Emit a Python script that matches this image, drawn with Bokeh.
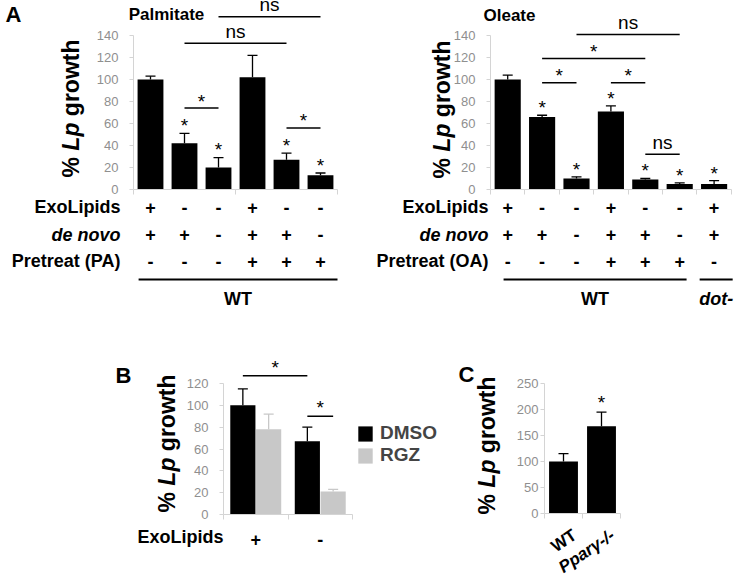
import math
from bokeh.plotting import figure
from bokeh.layouts import column, row
from bokeh.models import (Range1d, FixedTicker, ColumnDataSource, Whisker, TeeHead,
                          Legend, LegendItem)
from bokeh.core.properties import value
from bokeh.embed import file_html
from bokeh.resources import INLINE

FONT = "Liberation Sans"
AXIS_COL = "#d4d4d4"
TICK_COL = "#8f8f8f"
RGZ_COL = "#c8c8c8"

# ---------------- Panel A : Palmitate ----------------
pal_mean = [100, 42, 20, 102, 27, 13]
pal_err = [3, 9, 9, 20, 6, 2]
pal_star = [0, 1, 1, 0, 1, 1]
pal_exo = ["+", "-", "-", "+", "-", "-"]
pal_denovo = ["+", "+", "-", "+", "+", "-"]
pal_pretreat = ["-", "-", "-", "+", "+", "+"]
pal_brackets = [(3, 6, 157, "ns"), (2, 5, 133, "ns"), (2, 3, 74, "*"), (5, 6, 56, "*")]

# ---------------- Panel A : Oleate ----------------
ole_mean = [100, 66, 10, 71, 9, 5, 5]
ole_err = [4, 1.5, 1.5, 5, 1, 1, 3]
ole_star = [0, 1, 1, 1, 1, 1, 1]
ole_exo = ["+", "-", "-", "+", "-", "-", "+"]
ole_denovo = ["+", "+", "-", "+", "+", "-", "+"]
ole_pretreat = ["-", "-", "-", "+", "+", "+", "-"]
ole_brackets = [(3, 6, 141, "ns"), (2, 5, 119, "*"), (2, 3, 97, "*"), (4, 5, 97, "*"), (5, 6, 32, "ns")]

# ---------------- Panel B ----------------
b_exo = ["+", "-"]
b_dmso = [100, 67]
b_dmso_err = [15, 13]
b_rgz = [78, 21]
b_rgz_err = [14, 2]

# ---------------- Panel C ----------------
c_groups = ["WT", "Pparγ-/-"]
c_styles = ["bold", "bold italic"]
c_mean = [100, 168]
c_err = [15, 27]
c_star = [0, 1]

VAL_PX = {}


def make_panel(W, H, ax_px, unit_px, zero_py, val_px):
    p = figure(width=W, height=H,
               x_range=Range1d(0.5 - ax_px / unit_px, 0.5 + (W - ax_px) / unit_px),
               y_range=Range1d(-(H - zero_py) / val_px, zero_py / val_px),
               output_backend="svg", toolbar_location=None, outline_line_color=None)
    p.min_border_left = p.min_border_right = 0
    p.min_border_top = p.min_border_bottom = 0
    p.grid.visible = False
    X = lambda px: 0.5 + (px - ax_px) / unit_px
    Y = lambda py: (zero_py - py) / val_px
    VAL_PX[id(p)] = val_px
    return p, X, Y


def style_axes(p, ymax, ystep, ncat, xminor, standoff=11, size="13px"):
    ya = p.yaxis[0]
    ya.fixed_location = 0.5
    ya.bounds = (0, ymax)
    ya.ticker = FixedTicker(ticks=list(range(0, ymax + 1, ystep)), minor_ticks=[])
    ya.axis_line_color = AXIS_COL
    ya.major_tick_line_color = AXIS_COL
    ya.major_tick_out = 4
    ya.major_tick_in = 0
    ya.minor_tick_line_color = None
    ya.major_label_text_color = TICK_COL
    ya.major_label_text_font = FONT
    ya.major_label_text_font_size = size
    ya.major_label_standoff = standoff
    xa = p.xaxis[0]
    xa.fixed_location = 0
    xa.bounds = (0.5, ncat + 0.5)
    xa.ticker = FixedTicker(ticks=[], minor_ticks=xminor)
    xa.axis_line_color = AXIS_COL
    xa.minor_tick_line_color = AXIS_COL
    xa.minor_tick_out = 5
    xa.minor_tick_in = 0
    xa.major_tick_line_color = None
    xa.major_label_text_font_size = "0px"


def txt(p, x, y, t, size, style="bold", align="center", color="black", angle=0.0):
    if not isinstance(x, list):
        x, y, t = [x], [y], [t]
    p.text(x=x, y=y, text=t, text_font=value(FONT), text_font_size=value(size),
           text_font_style=value(style), text_align=value(align),
           text_baseline=value("middle"), text_color=value(color), angle=angle)


def ylabel(p, X, Y, mid_px, bottom_py, size=23):
    pieces = [("%", "bold", 0.889), (None, None, 0.278), ("Lp", "bold italic", 1.222),
              (None, None, 0.278), ("growth", "bold", 3.333)]
    py = bottom_py
    for t, st, em in pieces:
        if t:
            txt(p, X(mid_px), Y(py), t, f"{size}px", style=st, align="left", angle=math.pi / 2)
        py -= em * size


def bars_with_err(p, xs, means, errs, width, color, cap=10):
    p.vbar(x=xs, top=means, width=width, fill_color=color, line_color=None)
    src = ColumnDataSource(dict(x=xs, lo=means, hi=[m + e for m, e in zip(means, errs)]))
    p.add_layout(Whisker(source=src, base="x", lower="lo", upper="hi", line_color=color,
                         line_width=1.3, lower_head=None, level="overlay",
                         upper_head=TeeHead(size=cap, line_color=color, line_width=1.3)))


def stars(p, xs, means, errs, flags, lift_px, size="19px"):
    lift = lift_px / VAL_PX[id(p)]
    sx = [x for x, f in zip(xs, flags) if f]
    sy = [m + e + lift for m, e, f in zip(means, errs, flags) if f]
    txt(p, sx, sy, ["*"] * len(sx), size, style="normal")


def brackets(p, items, star_px=7, ns_px=12, size="19px"):
    for x0, x1, lvl, lab in items:
        p.segment(x0=[x0], y0=[lvl], x1=[x1], y1=[lvl], line_color="black", line_width=1.5)
        lift = (star_px if lab == "*" else ns_px) / VAL_PX[id(p)]
        txt(p, (x0 + x1) / 2, lvl + lift, lab, size, style="normal")


ROWS_PY = [206.5, 234, 260.5]
LINE_PY = 279
GROUP_PY = 298.5

# ================= Palmitate =================
p1, X1, Y1 = make_panel(370, 310, 133, 34, 189, 1.1)
style_axes(p1, 140, 20, 6, [0.5, 3.5, 6.5])
xs1 = [i + 1 for i in range(len(pal_mean))]
bars_with_err(p1, xs1, pal_mean, pal_err, 0.76, "black")
stars(p1, xs1, pal_mean, pal_err, pal_star, 7.7)
brackets(p1, pal_brackets)
for name, st, vals, py in zip(["ExoLipids", "de novo", "Pretreat (PA)"], ["bold", "bold italic", "bold"],
                              [pal_exo, pal_denovo, pal_pretreat], ROWS_PY):
    txt(p1, X1(120), Y1(py), name, "18px", style=st, align="right")
    txt(p1, xs1, [Y1(py)] * len(xs1), vals, "18px")
p1.segment(x0=[0.65], y0=[Y1(LINE_PY)], x1=[6.5], y1=[Y1(LINE_PY)], line_color="black", line_width=2)
txt(p1, (0.65 + 6.5) / 2, Y1(GROUP_PY), "WT", "18px")
txt(p1, X1(166), Y1(14), "Palmitate", "17px")
txt(p1, X1(5), Y1(13.5), "A", "22px", align="left")
ylabel(p1, X1, Y1, 70, 177)

# ================= Oleate =================
p2, X2, Y2 = make_panel(366, 310, 120, 34.4, 189, 1.1)
style_axes(p2, 140, 20, 7, [i + 0.5 for i in range(8)])
xs2 = [i + 1 for i in range(len(ole_mean))]
bars_with_err(p2, xs2, ole_mean, ole_err, 0.76, "black")
stars(p2, xs2, ole_mean, ole_err, ole_star, 7.7)
brackets(p2, ole_brackets)
for name, st, vals, py in zip(["ExoLipids", "de novo", "Pretreat (OA)"], ["bold", "bold italic", "bold"],
                              [ole_exo, ole_denovo, ole_pretreat], ROWS_PY):
    txt(p2, X2(118), Y2(py), name, "18px", style=st, align="right")
    txt(p2, xs2, [Y2(py)] * len(xs2), vals, "18px")
for a, b, lab, st in [(0.88, 6.2, "WT", "bold"), (6.58, 7.54, "dot-", "bold italic")]:
    p2.segment(x0=[a], y0=[Y2(LINE_PY)], x1=[b], y1=[Y2(LINE_PY)], line_color="black", line_width=2)
    txt(p2, (a + b) / 2, Y2(GROUP_PY), lab, "18px", style=st)
txt(p2, X2(139), Y2(14.5), "Oleate", "17px")
ylabel(p2, X2, Y2, 71, 178)

# ================= Panel B =================
p3, X3, Y3 = make_panel(440, 267, 223, 64.5, 204, 131 / 120)
style_axes(p3, 120, 20, 2, [0.5, 1.5, 2.5])
xg = [i + 1 for i in range(len(b_exo))]
xd = [g - 0.2 for g in xg]
xr = [g + 0.2 for g in xg]
bars_with_err(p3, xd, b_dmso, b_dmso_err, 0.39, "black")
bars_with_err(p3, xr, b_rgz, b_rgz_err, 0.39, RGZ_COL)
brackets(p3, [(xd[0], xd[1], 127, "*"), (xd[1], xr[1], 90, "*")], star_px=8.5)
txt(p3, X3(223), Y3(226.5), "ExoLipids", "18px", align="right")
txt(p3, xg, [Y3(229)] * 2, b_exo, "18px")
txt(p3, X3(115), Y3(65), "B", "22px", align="left")
ylabel(p3, X3, Y3, 166, 202)
rd = [r for r in p3.renderers if hasattr(r, "glyph") and type(r.glyph).__name__ == "VBar"]
leg = Legend(items=[LegendItem(label="DMSO", renderers=[rd[0]]), LegendItem(label="RGZ", renderers=[rd[1]])],
             location=(356, 111), padding=0, margin=0, spacing=0, glyph_width=18, glyph_height=19,
             label_height=19, label_standoff=6, border_line_color=None, background_fill_alpha=0,
             label_text_font=FONT, label_text_font_size="19px", label_text_font_style="bold")
p3.add_layout(leg)

# ================= Panel C =================
p4, X4, Y4 = make_panel(296, 267, 104, 38, 203, 0.52)
style_axes(p4, 250, 50, 2, [0.5, 1.5, 2.5], standoff=2)
xs4 = [i + 1 for i in range(len(c_mean))]
bars_with_err(p4, xs4, c_mean, c_err, 0.76, "black")
stars(p4, xs4, c_mean, c_err, c_star, 10)
for x, lab, st in zip(xs4, c_groups, c_styles):
    txt(p4, x + 0.3, Y4(223), lab, "17px", style=st, align="right", angle=math.radians(34))
txt(p4, X4(18), Y4(64), "C", "22px", align="left")
ylabel(p4, X4, Y4, 46, 204)

layout = column(row(p1, p2, spacing=0), row(p3, p4, spacing=0), spacing=0)
open("out.html", "w").write(file_html(layout, INLINE))
